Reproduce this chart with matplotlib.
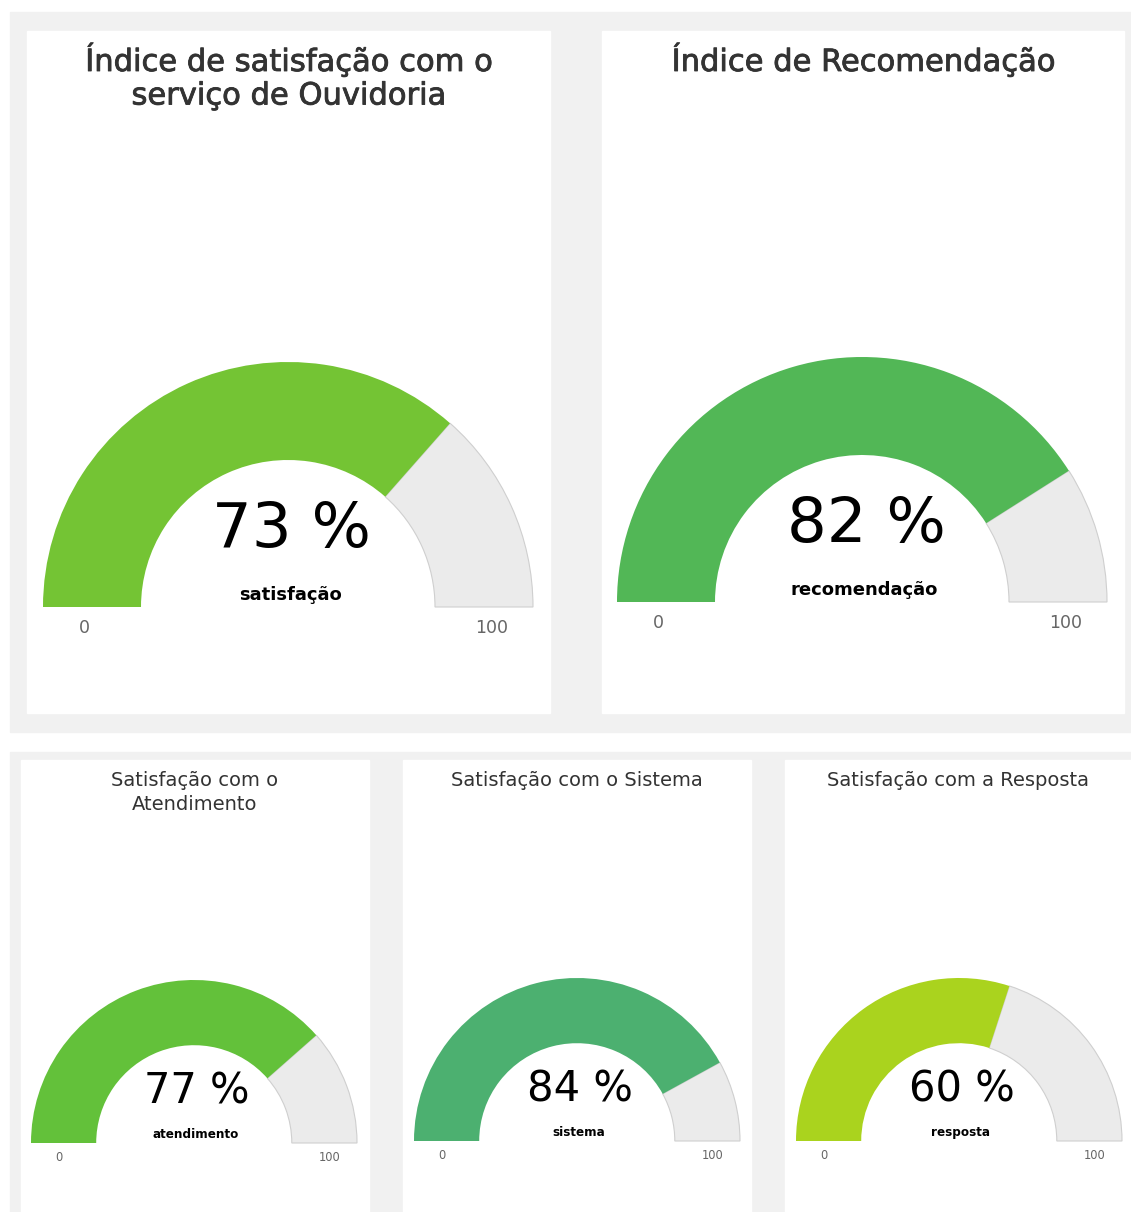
import matplotlib.pyplot as plt
import matplotlib.patheffects as pe
from matplotlib.patches import Wedge, Rectangle

# gauge data
titles = ["Índice de satisfação com o\nserviço de Ouvidoria",
          "Índice de Recomendação",
          "Satisfação com o\nAtendimento",
          "Satisfação com o Sistema",
          "Satisfação com a Resposta"]
values = [73, 82, 77, 84, 60]
labels = ["satisfação", "recomendação", "atendimento", "sistema", "resposta"]
colors = ["#74c434", "#52b756", "#63c13a", "#4cb070", "#aad31e"]
axis_min = 0
axis_max = 100

W, H = 1131, 1212
fig = plt.figure(figsize=(W / 100, H / 100), dpi=100)
ax = fig.add_axes([0, 0, 1, 1])
ax.set_xlim(0, W)
ax.set_ylim(H, 0)
ax.set_aspect("equal")
ax.axis("off")

bg = "#f1f1f1"
# outer grey blocks
ax.add_patch(Rectangle((10, 12), W - 10, 720, color=bg, zorder=0))
ax.add_patch(Rectangle((10, 752), W - 10, H - 752, color=bg, zorder=0))

# panel boxes: x0, y0, x1, y1
panels = [(27, 31, 550, 713), (602, 31, 1124, 713),
          (21, 760, 369, H), (403, 760, 751, H), (785, 760, W, H)]
# gauge centres and outer radius
centres = [(288, 607, 245), (862, 602, 245),
           (194, 1143, 163), (577, 1141, 163), (959, 1141, 163)]

for i in range(5):
    x0, y0, x1, y1 = panels[i]
    ax.add_patch(Rectangle((x0, y0), x1 - x0, y1 - y0, color="white", zorder=1))
    cx, cy, R = centres[i]
    big = i < 2
    frac = (values[i] - axis_min) / (axis_max - axis_min)
    # y axis is inverted, so the upper half is 180..360
    a = 180 + 180 * frac
    ax.add_patch(Wedge((cx, cy), R, a, 360, width=0.4 * R, facecolor="#ebebeb",
                       edgecolor="#cfcfcf", lw=0.8, zorder=2))
    ax.add_patch(Wedge((cx, cy), R, 180, a, width=0.4 * R, facecolor=colors[i],
                       edgecolor="none", zorder=3))

    # title, one line at a time
    for j, line in enumerate(titles[i].split("\n")):
        if big:
            ax.text((x0 + x1) / 2, 60 + 36 * j, line, ha="center", va="center",
                    fontsize=22, color="#333333", zorder=4,
                    path_effects=[pe.withStroke(linewidth=0.6, foreground="#333333")])
        else:
            ax.text((x0 + x1) / 2, 780 + 24 * j, line, ha="center", va="center",
                    fontsize=14, color="#333333", zorder=4)

    s = R / 245
    ax.text(cx + 4 * s, cy - 0.245 * R, "%d %%" % values[i], ha="center", va="baseline",
            fontsize=45 * s, color="black", zorder=4)
    ax.text(cx + 2 * s, cy - 0.03 * R, labels[i], ha="center", va="baseline",
            fontsize=13 * s, fontweight="bold", color="black", zorder=4)
    ax.text(cx - 0.83 * R, cy + 0.086 * R, str(axis_min), ha="center", va="center",
            fontsize=12.5 * s, color="#666666", zorder=4)
    ax.text(cx + 0.83 * R, cy + 0.086 * R, str(axis_max), ha="center", va="center",
            fontsize=12.5 * s, color="#666666", zorder=4)

fig.savefig("out.png", dpi=100)
